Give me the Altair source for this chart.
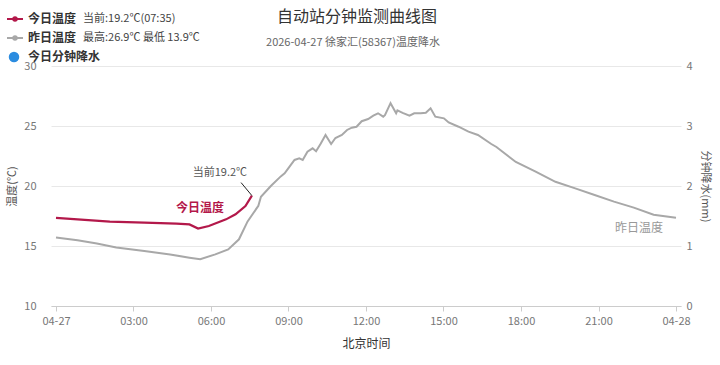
import altair as alt
import pandas as pd

FONT = "Noto Sans CJK SC"

# ---- data ----
gray_time = ["00:00","00:50","01:35","02:20","03:25","04:25","05:10","05:35","06:10","06:40",
             "07:05","07:25","07:50","07:56","08:19","08:42","08:51","09:02","09:14","09:25",
             "09:33","09:44","09:56","10:04","10:15","10:26","10:39","10:49","11:04","11:16",
             "11:27","11:38","11:50","12:05","12:17","12:28","12:40","12:44","12:57","13:10",
             "13:13","13:25","13:41","13:52","14:07","14:19","14:30","14:41","15:01","15:12",
             "15:35","15:58","16:20","16:51","17:03","17:48","18:34","19:20","20:06","20:51",
             "21:36","22:22","23:08","24:00"]
gray_temp = [15.7,15.47,15.2,14.87,14.58,14.3,14.03,13.9,14.3,14.72,
             15.56,17.05,18.35,19.1,20.0,20.8,21.05,21.6,22.17,22.3,
             22.17,22.86,23.14,22.9,23.55,24.25,23.5,24.0,24.25,24.67,
             24.86,24.94,25.4,25.58,25.86,26.06,25.78,25.9,26.9,26.06,
             26.3,26.1,25.86,26.06,26.06,26.1,26.47,25.78,25.64,25.3,
             24.94,24.53,24.25,23.5,23.25,22.0,21.2,20.35,19.8,19.25,
             18.7,18.2,17.6,17.35]

red_time = ["00:00","00:50","02:05","03:25","04:40","05:10","05:30","05:55","06:35","06:57",
            "07:20","07:35"]
red_temp = [17.35,17.22,17.03,16.95,16.87,16.8,16.45,16.67,17.22,17.64,
            18.33,19.2]

precip_time = ["00:00","02:00","04:00","06:00","07:35"]
precip_mm = [0.0,0.0,0.0,0.0,0.0]

x_ticks = [0,3,6,9,12,15,18,21,24]
y_ticks = [10,15,20,25,30]
p_ticks = [0,1,2,3,4]


def hours(s):
    h, m = s.split(":")
    return int(h) + int(m) / 60.0

gray = pd.DataFrame({"t": [hours(s) for s in gray_time], "temp": gray_temp})
red = pd.DataFrame({"t": [hours(s) for s in red_time], "temp": red_temp})
prec = pd.DataFrame({"t": [hours(s) for s in precip_time], "p": precip_mm})

RED = "#b3184a"
GRAY = "#a8a8a8"

xscale = alt.Scale(domain=[0, 24], nice=False)
yscale = alt.Scale(domain=[10, 30], nice=False)

label_expr = ("datum.value == 0 ? '04-27' : datum.value == 24 ? '04-28' : "
              "(datum.value < 10 ? '0' : '') + datum.value + ':00'")

x_enc = alt.X("t:Q", scale=xscale, axis=alt.Axis(
    values=x_ticks, labelExpr=label_expr, grid=False, domainColor="#cccccc",
    tickColor="#cccccc", tickSize=5, labelColor="#777777", labelFontSize=11,
    labelFont=FONT, labelPadding=4, title="北京时间", titleFont=FONT, titleFontSize=12,
    titleFontWeight="normal", titleColor="#333333", titlePadding=12))

y_axis = alt.Axis(values=y_ticks, grid=True, gridColor="#e8e8e8", domain=False, ticks=False,
                  labelColor="#777777", labelFontSize=11, labelFont=FONT, labelPadding=15,
                  title="温度(℃)", titleFont=FONT, titleFontSize=11, titleFontWeight="normal",
                  titleColor="#555555", titlePadding=6)

gray_line = alt.Chart(gray).mark_line(color=GRAY, strokeWidth=2).encode(
    x=x_enc, y=alt.Y("temp:Q", scale=yscale, axis=y_axis))

red_line = alt.Chart(red).mark_line(color=RED, strokeWidth=2.2).encode(
    x=alt.X("t:Q", scale=xscale), y=alt.Y("temp:Q", scale=yscale))

last_red = red.tail(1).copy()
# leader line end, offset from the last point in data units (pixels -> units)
last_red["t2"] = last_red["t"] - 11 / 26.25
last_red["temp2"] = last_red["temp"] + 13 / 12.0

leader = alt.Chart(last_red).mark_rule(color="#222222", strokeWidth=1).encode(
    x="t:Q", y="temp:Q", x2="t2:Q", y2="temp2:Q")

cur_text = alt.Chart(last_red).mark_text(
    text="当前19.2℃", font=FONT, fontSize=11, color="#555555", dx=-32, dy=-23,
    align="center", baseline="middle").encode(x="t:Q", y="temp:Q")

red_lab = alt.Chart(last_red).mark_text(
    text="今日温度", font=FONT, fontSize=12, fontWeight="bold", color=RED, dx=-52, dy=12,
    align="center", baseline="middle").encode(x="t:Q", y="temp:Q")

last_gray = gray.tail(1)
gray_lab = alt.Chart(last_gray).mark_text(
    text="昨日温度", font=FONT, fontSize=12, color="#999999", dx=-37, dy=10,
    align="center", baseline="middle").encode(x="t:Q", y="temp:Q")

# ---- header / legend decorations ----
one = pd.DataFrame({"a": [0]})

def txt(s, x, y, size=11, weight="normal", color="#333333", align="left"):
    return alt.Chart(one).mark_text(text=s, font=FONT, fontSize=size, fontWeight=weight,
                                    color=color, align=align, baseline="middle").encode(
        x=alt.value(x), y=alt.value(y))

L = 51
T = 66
deco = [
    txt("自动站分钟监测曲线图", 357 - L, 17 - T, size=16, color="#333333", align="center"),
    txt("2026-04-27 徐家汇(58367)温度降水", 353 - L, 43 - T, size=11, color="#666666", align="center"),
    txt("今日温度", 28 - L, 19 - T, size=12, weight="bold"),
    txt("当前:19.2℃(07:35)", 83 - L, 19 - T, size=11, color="#444444"),
    txt("昨日温度", 28 - L, 38 - T, size=12, weight="bold"),
    txt("最高:26.9℃ 最低 13.9℃", 83 - L, 38 - T, size=11, color="#444444"),
    txt("今日分钟降水", 28 - L, 57 - T, size=12, weight="bold"),
]

def legend_line(y, color):
    r = alt.Chart(one).mark_rule(color=color, strokeWidth=2).encode(
        x=alt.value(7 - L), x2=alt.value(23 - L), y=alt.value(y - T))
    p = alt.Chart(one).mark_point(filled=True, color=color, size=30, opacity=1).encode(
        x=alt.value(15 - L), y=alt.value(y - T))
    return [r, p]

deco += legend_line(19, RED)
deco += legend_line(38, GRAY)
deco.append(alt.Chart(one).mark_point(filled=True, color="#2b8ce0", size=110, opacity=1).encode(
    x=alt.value(14 - L), y=alt.value(57 - T)))

temp_layer = alt.layer(gray_line, red_line, leader, cur_text, red_lab, gray_lab, *deco)

prec_layer = alt.Chart(prec).mark_bar(color="#2b8ce0", size=2).encode(
    x=alt.X("t:Q", scale=xscale),
    y=alt.Y("p:Q", scale=alt.Scale(domain=[0, 4], nice=False), axis=alt.Axis(
        orient="right", values=p_ticks, grid=False, domain=False, ticks=False,
        labelColor="#777777", labelFontSize=11, labelFont=FONT, labelPadding=5,
        title="分钟降水(mm)", titleFont=FONT, titleFontSize=11, titleFontWeight="normal",
        titleColor="#555555", titleAngle=90, titlePadding=7)))

chart = alt.layer(temp_layer, prec_layer).resolve_scale(y="independent").properties(
    width=630, height=240,
    autosize=alt.AutoSizeParams(type="none"),
    padding={"left": 51, "top": 66, "right": 39, "bottom": 59},
    background="white",
).configure_view(stroke=None)

chart.save("out.html", embed_options={"renderer": "svg", "actions": False})
